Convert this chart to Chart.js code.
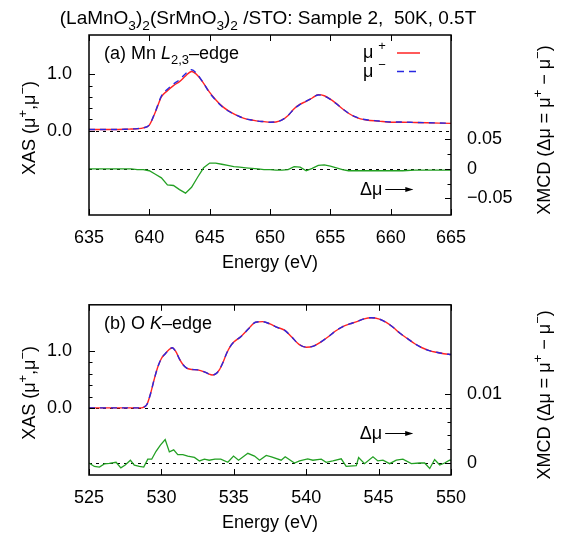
<!DOCTYPE html>
<html>
<head>
<meta charset="utf-8">
<script src="https://cdn.jsdelivr.net/npm/chart.js@4.4.1/dist/chart.umd.min.js"></script>
<style>
  body { margin: 0; background: #fff; }
  canvas { display: block; }
</style>
</head>
<body>
<canvas id="mn" width="570" height="285"></canvas>
<canvas id="ok" width="570" height="255"></canvas>
<script>
// ── Mn L2,3-edge ─────────────────────────────────────────────────
const mnEnergy = [635, 636, 637, 638, 638.5, 639, 639.5, 640, 640.5, 641, 641.5, 642, 642.5, 643, 643.5,
  644, 644.5, 645, 645.5, 646, 646.5, 647, 647.5, 648, 648.5, 649, 649.5, 650, 650.5, 651, 651.5,
  652, 652.5, 653, 653.5, 654, 654.5, 655, 655.5, 656, 656.5, 657, 657.5, 658, 659, 660, 661, 662,
  663, 664, 665];
const mnMuPlus = [0.02, 0.02, 0.02, 0.025, 0.03, 0.035, 0.05, 0.10, 0.33, 0.60, 0.71, 0.80, 0.87, 0.97, 1.05,
  0.98, 0.84, 0.68, 0.55, 0.44, 0.36, 0.30, 0.25, 0.21, 0.19, 0.17, 0.16, 0.15, 0.155, 0.19, 0.27,
  0.39, 0.47, 0.52, 0.58, 0.64, 0.62, 0.56, 0.48, 0.39, 0.31, 0.25, 0.21, 0.19, 0.17, 0.15, 0.15, 0.145,
  0.14, 0.135, 0.13];
const mnMuMinus = [0.02, 0.02, 0.02, 0.025, 0.03, 0.036, 0.051, 0.103, 0.34, 0.615, 0.737, 0.828, 0.905, 1.011, 1.081,
  0.994, 0.838, 0.67, 0.54, 0.432, 0.354, 0.296, 0.247, 0.208, 0.189, 0.17, 0.161, 0.151, 0.157, 0.192, 0.271,
  0.386, 0.467, 0.523, 0.579, 0.634, 0.613, 0.555, 0.478, 0.391, 0.313, 0.253, 0.213, 0.193, 0.173, 0.153, 0.153, 0.147,
  0.142, 0.137, 0.132];
const mnXmcd = [0, 0, 0, 0, 0, -0.001, -0.001, -0.003, -0.009, -0.015, -0.027, -0.028, -0.035, -0.041, -0.031,
  -0.014, 0.002, 0.010, 0.010, 0.008, 0.006, 0.004, 0.003, 0.002, 0.001, 0.000, -0.001, -0.001, -0.002, -0.002, -0.001,
  0.004, 0.003, -0.003, 0.001, 0.006, 0.007, 0.005, 0.002, -0.001, -0.003, -0.003, -0.003, -0.003, -0.003, -0.003, -0.003, -0.002,
  -0.002, -0.002, -0.002];
const mnXasTicks = [0, 1.0];
const mnXasMinor = [0.2, 0.4, 0.6, 0.8];
const mnXmcdTicks = [-0.05, 0, 0.05];
const mnXmcdMinor = [-0.025, 0.025];

// ── O K-edge ─────────────────────────────────────────────────────
const oEnergy = [525, 526, 527, 528, 528.5, 528.75, 529, 529.25, 529.5, 529.75,
  530, 530.25, 530.5, 530.75, 531, 531.25, 531.5, 531.75, 532,
  532.5, 533, 533.25, 533.5, 533.75, 534, 534.25, 534.5, 534.75, 535,
  535.5, 536, 536.25, 536.5, 537, 537.5, 538, 538.5, 539, 539.5,
  540, 540.5, 541, 541.5, 542, 542.5, 543, 543.5, 544, 544.5,
  545, 545.5, 546, 546.5, 547, 547.5, 548, 548.5, 549, 549.5, 550];
const oMuPlus = [0, 0, 0, 0, 0, 0.01, 0.06, 0.25, 0.50, 0.72,
  0.87, 0.95, 1.02, 1.06, 0.99, 0.86, 0.76, 0.70, 0.68,
  0.67, 0.63, 0.60, 0.58, 0.60, 0.67, 0.80, 0.96, 1.08, 1.16,
  1.26, 1.39, 1.46, 1.51, 1.52, 1.48, 1.42, 1.37, 1.25, 1.12,
  1.07, 1.09, 1.16, 1.25, 1.35, 1.43, 1.48, 1.52, 1.57, 1.59,
  1.57, 1.51, 1.42, 1.31, 1.22, 1.13, 1.06, 1.01, 0.98, 0.955, 0.94];
const oMuMinus = [0, 0, 0, 0, 0, 0.01, 0.06, 0.25, 0.50, 0.72,
  0.87, 0.95, 1.02, 1.06, 0.99, 0.86, 0.76, 0.70, 0.68,
  0.67, 0.63, 0.60, 0.58, 0.60, 0.67, 0.80, 0.96, 1.08, 1.16,
  1.26, 1.39, 1.46, 1.51, 1.52, 1.48, 1.42, 1.37, 1.25, 1.12,
  1.07, 1.09, 1.16, 1.25, 1.35, 1.43, 1.48, 1.52, 1.57, 1.59,
  1.57, 1.51, 1.42, 1.31, 1.22, 1.13, 1.06, 1.01, 0.98, 0.955, 0.94];
const oXmcdEnergy = [525.0, 525.37, 525.72, 526.06, 526.4, 526.87, 527.2, 527.5, 527.86, 528.13,
  528.48, 528.78, 529.06, 529.33, 529.63, 529.93, 530.26, 530.55, 530.85, 531.13,
  531.48, 531.82, 532.28, 532.63, 532.97, 533.3, 533.7, 534.1, 534.59, 534.98,
  535.33, 535.97, 536.43, 536.78, 537.24, 537.6, 538.27, 538.55, 539.19, 539.54,
  540.11, 540.46, 541.04, 541.38, 541.84, 542.42, 542.76, 543.46, 543.62, 544.03,
  544.61, 544.95, 545.3, 545.76, 546.22, 546.68, 547.26, 547.83, 548.18, 548.53,
  548.87, 549.22, 549.56, 549.9, 550];
const oXmcd = [0.0, -0.0005, -0.0006, -0.00014, -0.00005, 0.0001, -0.0007, -0.0003, 0.0004, -0.0003,
  -0.0005, -0.0006, 0.00055, 0.00055, 0.0017, 0.0026, 0.0034, 0.0016, 0.0019, 0.0012,
  0.0012, 0.001, 0.0008, 0.0003, 0.00055, 0.0004, 0.00055, 0.00055, 0.0001, 0.001,
  0.0004, 0.0014, 0.001, 0.0004, 0.0011, 0.0009, 0.0004, 0.0009, 0.0, 0.0003,
  0.0006, 0.0004, 0.00055, 0.0001, 0.0003, 0.0006, -0.0005, -0.0004, 0.0008, -0.0001,
  0.0009, 0.0003, 0.0004, -0.0001, 0.0004, 0.00055, -0.0001, 0.0, 0.0, -0.0008,
  0.0005, -0.0003, 0.0, 0.0004, 0.0004];
const oXasTicks = [0, 1.0];
const oXasMinor = [0.2, 0.4, 0.6, 0.8];
const oXmcdTicks = [0, 0.01];
const oXmcdMinor = [0.002, 0.004, 0.006, 0.008];

const FONT = '"Liberation Sans", Arial, Helvetica, sans-serif';
const SIZE = 18;
const RED = 'rgb(255,35,35)';
const BLUE = 'rgb(40,40,225)';
const GREEN = 'rgb(35,160,35)';

const pts = (xs, ys) => xs.map((x, i) => ({ x, y: ys[i] }));

// draw a run of [text, mode] pieces, mode: '' | 'it' | 'sup' | 'sub'
function drawRuns(ctx, runs, x, y, size, align) {
  let w = 0;
  const pieces = runs.map(([t, m]) => {
    const small = m === 'sup' || m === 'sub';
    const font = (m === 'it' ? 'italic ' : '') + (small ? size * 0.72 : size) + 'px ' + FONT;
    ctx.font = font;
    const pw = ctx.measureText(t).width;
    const dy = m === 'sup' ? -size * 0.42 : m === 'sub' ? size * 0.3 : 0;
    w += pw;
    return { t, font, pw, dy };
  });
  let cx = align === 'center' ? x - w / 2 : align === 'right' ? x - w : x;
  ctx.textAlign = 'left';
  ctx.textBaseline = 'alphabetic';
  pieces.forEach(p => { ctx.font = p.font; ctx.fillText(p.t, cx, y + p.dy); cx += p.pw; });
  return cx;
}

function decorPlugin(p) {
  return {
    id: 'decor',
    beforeDatasetsDraw(chart) {
      const { ctx, chartArea: a, scales } = chart;
      ctx.save();
      ctx.strokeStyle = '#000';
      ctx.lineWidth = 1;
      ctx.setLineDash([3, 4]);
      [scales.y, scales.y2].forEach(s => {
        const py = Math.round(s.getPixelForValue(0)) + 0.5;
        ctx.beginPath(); ctx.moveTo(a.left, py); ctx.lineTo(a.right, py); ctx.stroke();
      });
      ctx.restore();
    },
    afterDraw(chart) {
      const { ctx, chartArea: a, scales } = chart;
      const { x, y, y2 } = scales;
      ctx.save();
      ctx.strokeStyle = '#000';
      ctx.fillStyle = '#000';
      ctx.lineWidth = 1.5;
      ctx.strokeRect(a.left, a.top, a.right - a.left, a.bottom - a.top);

      // inward tick marks
      ctx.lineWidth = 1;
      ctx.beginPath();
      x.ticks.forEach(t => {
        const px = Math.round(x.getPixelForValue(t.value)) + 0.5;
        ctx.moveTo(px, a.bottom); ctx.lineTo(px, a.bottom - 6);
        ctx.moveTo(px, a.top); ctx.lineTo(px, a.top + 6);
      });
      const yTick = (s, v, len, fromLeft) => {
        const py = Math.round(s.getPixelForValue(v)) + 0.5;
        const x0 = fromLeft ? a.left : a.right;
        ctx.moveTo(x0, py); ctx.lineTo(x0 + (fromLeft ? len : -len), py);
      };
      p.xasTicks.forEach(v => yTick(y, v, 6, true));
      p.xasMinor.forEach(v => yTick(y, v, 3.5, true));
      p.xmcdTicks.forEach(v => yTick(y2, v, 6, false));
      p.xmcdMinor.forEach(v => yTick(y2, v, 3.5, false));
      ctx.stroke();

      // panel label
      drawRuns(ctx, p.label, a.left + 15, a.top + 24, SIZE, 'left');

      // Δμ pointer towards the right axis
      const ax = x.getPixelForValue(p.arrowAt[0]);
      const ay = y2.getPixelForValue(p.arrowAt[1]);
      const end = drawRuns(ctx, [['Δμ', '']], ax, ay, SIZE, 'left');
      const ly = Math.round(ay - 6) + 0.5;
      ctx.beginPath();
      ctx.moveTo(end + 3, ly); ctx.lineTo(end + 30, ly);
      ctx.stroke();
      ctx.beginPath();
      ctx.moveTo(end + 31, ly); ctx.lineTo(end + 23, ly - 2.5); ctx.lineTo(end + 23, ly + 2.5);
      ctx.closePath(); ctx.fill();

      // axis titles
      const midY = (a.top + a.bottom) / 2;
      drawRuns(ctx, [['Energy (eV)', '']], (a.left + a.right) / 2, a.bottom + 53, SIZE, 'center');
      ctx.save();
      ctx.translate(35, midY + 3); ctx.rotate(-Math.PI / 2);
      drawRuns(ctx, [['XAS (μ', ''], ['+', 'sup'], [',μ', ''], ['−', 'sup'], [')', '']], 0, 0, SIZE, 'center');
      ctx.restore();
      ctx.save();
      ctx.translate(550, midY + 5); ctx.rotate(-Math.PI / 2);
      drawRuns(ctx, [['XMCD (Δμ = μ', ''], ['+', 'sup'], [' − μ', ''], ['−', 'sup'], [')', '']], 0, 0, SIZE, 'center');
      ctx.restore();

      if (p.legend) {
        const lx = a.right - 88;
        [[RED, [], '+'], [BLUE, [7, 5], '−']].forEach(([col, dash, sign], i) => {
          const by = a.top + 23 + i * 18.5;
          ctx.fillStyle = '#000';
          drawRuns(ctx, [['μ ', ''], [sign, 'sup']], lx, by, SIZE, 'left');
          ctx.strokeStyle = col;
          ctx.lineWidth = 1.5;
          ctx.setLineDash(dash);
          ctx.beginPath(); ctx.moveTo(lx + 34, by - 5); ctx.lineTo(lx + 57, by - 5); ctx.stroke();
          ctx.setLineDash([]);
        });
      }

      if (p.title) {
        ctx.fillStyle = '#000';
        drawRuns(ctx, [['(LaMnO', ''], ['3', 'sub'], [')', ''], ['2', 'sub'], ['(SrMnO', ''], ['3', 'sub'],
          [')', ''], ['2', 'sub'], [' /STO: Sample 2,  50K, 0.5T', '']], 268, 24, 19, 'center');
      }
      ctx.restore();
    }
  };
}

function buildPanel(canvasId, p) {
  const tickFont = { family: FONT, size: SIZE };
  return new Chart(document.getElementById(canvasId), {
    type: 'line',
    data: {
      datasets: [
        { label: 'μ+', data: pts(p.energy, p.muPlus), borderColor: RED, borderWidth: 1.4,
          cubicInterpolationMode: 'monotone', yAxisID: 'y', order: 2 },
        { label: 'μ−', data: pts(p.energy, p.muMinus), borderColor: BLUE, borderWidth: 1.4, borderDash: [6, 5],
          cubicInterpolationMode: 'monotone', yAxisID: 'y', order: 1 },
        { label: 'Δμ', data: pts(p.xmcdEnergy, p.xmcd), borderColor: GREEN, borderWidth: 1.3,
          tension: 0, yAxisID: 'y2', order: 3 },
      ]
    },
    options: {
      responsive: false,
      animation: false,
      layout: { padding: { top: p.top, left: 0, right: 0, bottom: 0 } },
      elements: { point: { radius: 0 } },
      plugins: { legend: { display: false }, tooltip: { enabled: false } },
      scales: {
        x: {
          type: 'linear', min: p.xMin, max: p.xMax,
          grid: { display: false }, border: { display: false },
          ticks: { stepSize: 5, padding: 4, color: '#000', font: tickFont, maxRotation: 0 },
          afterFit: s => { s.height = p.xHeight; }
        },
        y: {
          min: p.xasMin, max: p.xasMax, position: 'left',
          grid: { display: false }, border: { display: false },
          afterBuildTicks: s => { s.ticks = p.xasTicks.map(v => ({ value: v })); },
          ticks: { padding: 9, color: '#000', font: tickFont, callback: v => v.toFixed(1) },
          afterFit: s => { s.width = 89; }
        },
        y2: {
          min: p.xmcdMin, max: p.xmcdMax, position: 'right',
          grid: { display: false }, border: { display: false },
          afterBuildTicks: s => { s.ticks = p.xmcdTicks.map(v => ({ value: v })); },
          ticks: { padding: 8, color: '#000', font: tickFont,
                   callback: v => v === 0 ? '0' : (v < 0 ? '−' : '') + String(Math.abs(v)) },
          afterFit: s => { s.width = 119; }
        }
      }
    },
    plugins: [decorPlugin(p)]
  });
}

buildPanel('mn', {
  energy: mnEnergy, muPlus: mnMuPlus, muMinus: mnMuMinus,
  xmcdEnergy: mnEnergy, xmcd: mnXmcd,
  xMin: 635, xMax: 665,
  xasMin: -1.495, xasMax: 1.697, xmcdMin: -0.078, xmcdMax: 0.227,
  xasTicks: mnXasTicks, xasMinor: mnXasMinor, xmcdTicks: mnXmcdTicks, xmcdMinor: mnXmcdMinor,
  top: 35, xHeight: 70,
  label: [['(a) Mn ', ''], ['L', 'it'], ['2,3', 'sub'], ['–edge', '']],
  arrowAt: [657.45, -0.044],
  legend: true, title: true
});

buildPanel('ok', {
  energy: oEnergy, muPlus: oMuPlus, muMinus: oMuMinus,
  xmcdEnergy: oXmcdEnergy, xmcd: oXmcd,
  xMin: 525, xMax: 550,
  xasMin: -1.183, xasMax: 1.817, xmcdMin: -0.00174, xmcdMax: 0.02292,
  xasTicks: oXasTicks, xasMinor: oXasMinor, xmcdTicks: oXmcdTicks, xmcdMinor: oXmcdMinor,
  top: 10, xHeight: 65,
  label: [['(b) O ', ''], ['K', 'it'], ['–edge', '']],
  arrowAt: [543.7, 0.0035],
  legend: false, title: false
});
</script>
</body>
</html>
